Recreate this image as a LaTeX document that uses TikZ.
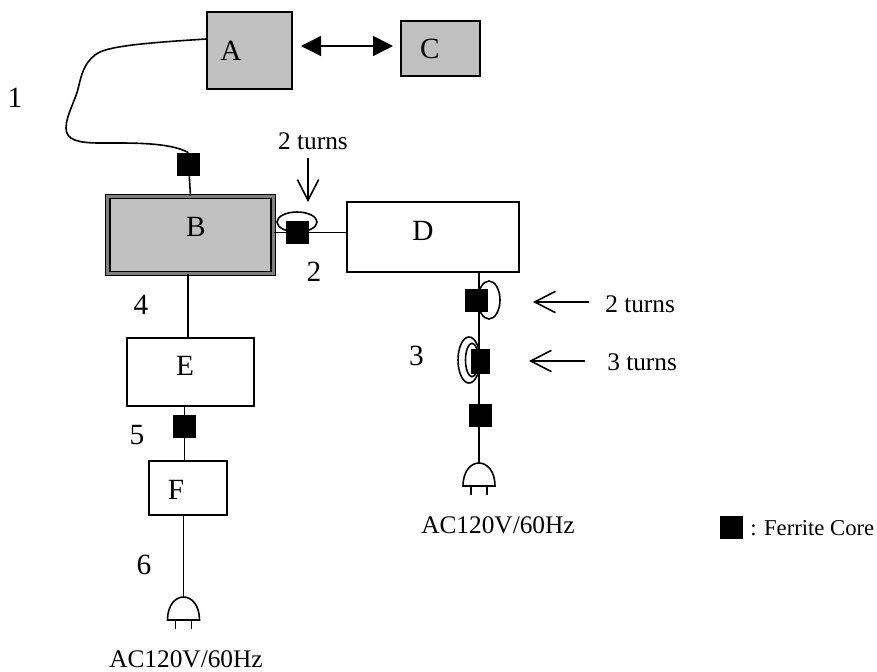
\documentclass[tikz,border=0pt]{standalone}
\usepackage{fontspec}
\setmainfont{Liberation Serif}
\usetikzlibrary{arrows.meta,calc,positioning}
\definecolor{BoxGray}{HTML}{C0C0C0}
\tikzset{
  boxnode/.style={draw,line width=1.2pt,inner sep=0pt},
  corenode/.style={fill=black,inner sep=0pt,minimum size=17.25pt},
  tag/.style={inner sep=0pt,font=\fontsize{22pt}{24pt}\selectfont},
  small/.style={inner sep=0pt,font=\fontsize{19pt}{21pt}\selectfont},
  wire/.style={line width=1.2pt},
  turn/.style={line width=1.2pt},
  openhead/.style={-{Straight Barb[length=15.5pt,width=16pt]}},
  pics/plug/.style={code={
    \draw[wire] (-16,23) .. controls (-16,8) and (-8,0) .. (0,0)
      .. controls (8,0) and (16,8) .. (16,23) -- cycle;
    \draw[wire] (-8,23) -- (-8,32) (8,23) -- (8,32);
  }}
}
\begin{document}
\begin{tikzpicture}[>=Latex,x=0.75pt,y=-0.75pt]
  \useasboundingbox (0,0) rectangle (877,671);
  % boxes
  \node[boxnode,fill=BoxGray,minimum width=63.75pt,minimum height=57.75pt,label={[tag,shift={(-18.5,0)}]center:A}] (boxA) at (249.5,50.5) {};
  \node[boxnode,fill=BoxGray,minimum width=59.25pt,minimum height=41.25pt,label={[tag,shift={(-10.5,0)}]center:C}] (boxC) at (440.5,48.5) {};
  \node[draw,line width=1pt,fill=BoxGray,double=gray,double distance=2.2pt,inner sep=0pt,minimum width=124pt,minimum height=58pt,label={[tag,shift={(5.5,-8.5)}]center:B}] (boxB) at (190.5,235) {};
  \node[boxnode,minimum width=129pt,minimum height=52.5pt,label={[tag,shift={(-10,-6)}]center:D}] (boxD) at (433,237) {};
  \node[boxnode,minimum width=95.25pt,minimum height=51pt,label={[tag,shift={(-5.5,-6)}]center:E}] (boxE) at (190.5,372) {};
  \node[boxnode,minimum width=58.5pt,minimum height=40.5pt,label={[tag,shift={(-12,1.5)}]center:F}] (boxF) at (188,488) {};
  % ferrite cores
  \node[corenode] (coreAB) at (188.5,164.5) {};
  \node[corenode] (coreBD) at (297.5,232.5) {};
  \node[corenode] (coreD1) at (476.5,300) {};
  \node[corenode,minimum width=14.5pt,minimum height=18.5pt] (coreD2) at (480.5,361.5) {};
  \node[corenode] (coreD3) at (480.5,415) {};
  \node[corenode] (coreEF) at (184.5,426.5) {};
  \node[corenode] (coreKey) at (731,527.5) {};
  % plugs
  \coordinate (plugD) at (479,463);
  \coordinate (plugF) at (183.5,597);
  \coordinate (wireBE) at (188,300);
  \pic at (plugD) {plug};
  \pic at (plugF) {plug};
  % wires
  \draw[wire] (boxA.west |- 0,39) .. controls (160,42) and (115,45) .. (100,52)
    .. controls (86,59) and (82,72) .. (79,85) .. controls (76,100) and (66,115) .. (66,128)
    .. controls (66,140) and (78,143) .. (100,143) .. controls (130,143) and (170,142) .. (coreAB.north);
  \draw[wire] (coreAB) -- (boxB.north);
  \draw[wire] (boxB.east |- coreBD) -- (coreBD) -- (boxD.west |- coreBD);
  \draw[wire] (boxD.south -| plugD) -- (plugD);
  \draw[wire] (boxB.south -| wireBE) -- (boxE.north -| wireBE);
  \draw[wire] (boxE.south -| coreEF) -- (coreEF) -- (boxF.north -| coreEF);
  \draw[wire] (boxF.south -| plugF) -- (plugF);
  % turns
  \draw[turn] (297,222) ellipse (20 and 10);
  \draw[turn] (489,300) ellipse (11 and 19);
  \draw[turn] (469,360) ellipse (11 and 23);
  \draw[turn] (472,360) ellipse (6.5 and 16.7);
  % arrows
  \coordinate (acLeft) at (301,46);
  \coordinate (acRight) at (393,46);
  \draw[wire,{Triangle[length=15pt,width=15pt]}-{Triangle[length=15pt,width=15pt]}] (acLeft) -- (acRight);
  \node[small] (turnsTop) at (313,141) {2 turns};
  \node[small,anchor=west] (turnsOne) at (605,304) {2 turns};
  \node[small,anchor=west] (turnsTwo) at (607,362) {3 turns};
  \coordinate (tailTop) at (308,158);
  \coordinate (tipTop) at (308,202);
  \coordinate (tailOne) at (589,302);
  \coordinate (tipOne) at (533,302);
  \coordinate (tailTwo) at (585,361);
  \coordinate (tipTwo) at (529,361);
  \draw[wire,openhead] (tailTop) -- (tipTop);
  \draw[wire,openhead] (tailOne) -- (tipOne);
  \draw[wire,openhead] (tailTwo) -- (tipTwo);
  % numbers
  \node[tag] (numOne) at (15,98) {1};
  \node[tag] (numTwo) at (314,272) {2};
  \node[tag] (numThree) at (416.5,356) {3};
  \node[tag] (numFour) at (141,305) {4};
  \node[tag] (numFive) at (137,435) {5};
  \node[tag] (numSix) at (144,565) {6};
  % supply and key
  \node[small] (acD) at (498,525) {AC120V/60Hz};
  \node[small] (acF) at (186,659) {AC120V/60Hz};
  \node[inner sep=0pt,anchor=west,font=\fontsize{17pt}{19pt}\selectfont] (keyText) at (750,528) {: Ferrite Core};
\end{tikzpicture}
\end{document}
